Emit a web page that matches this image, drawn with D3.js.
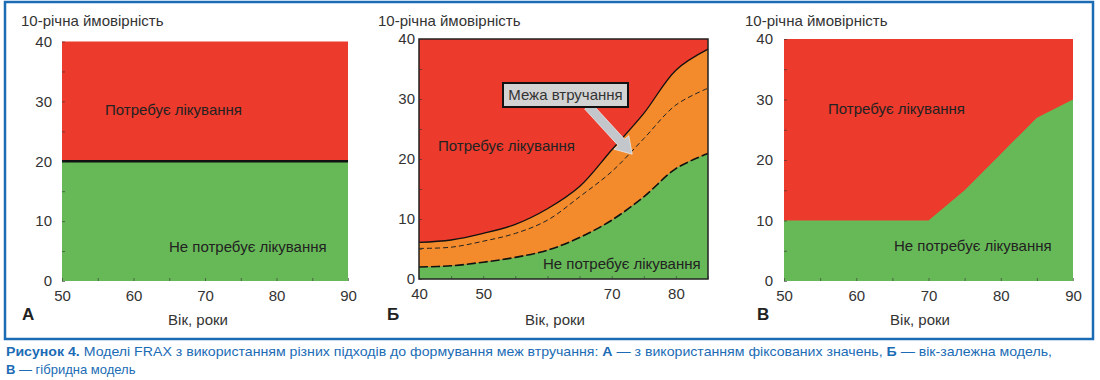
<!DOCTYPE html>
<html><head><meta charset="utf-8">
<script src="https://cdn.jsdelivr.net/npm/d3@7"></script>
<style>
html,body{margin:0;padding:0;background:#fff;}
svg{display:block;}
text{font-family:"Liberation Sans",Arial,sans-serif;}
</style></head>
<body>
<svg id="chart" width="1100" height="380"></svg>
<script>
// ---------- data ----------
const yTicks = [0, 10, 20, 30, 40];
const ageA = [50, 90];
const thresholdA = [20, 20];
const xLabelsA = [50, 60, 70, 80, 90];

const ageB = [40, 45, 50, 55, 60, 65, 70, 75, 80, 85];
const upperB = [6.1, 6.5, 7.6, 9.1, 11.7, 15.4, 21.5, 27.6, 34.8, 38.3];
const middleB = [5.1, 5.3, 6.3, 7.6, 9.8, 13.7, 17.9, 23.4, 29.0, 31.8];
const lowerB = [2.0, 2.2, 2.8, 3.6, 4.8, 6.9, 9.8, 13.7, 18.4, 20.9];
const xLabelsB = [40, 50, 70, 80];

const ageC = [50, 70, 75, 80, 85, 90];
const thresholdC = [10, 10, 15, 21, 27, 30];
const xLabelsC = [50, 60, 70, 80, 90];

const yTitle = "10-річна ймовірність";
const xTitle = "Вік, роки";
const treatLabel = "Потребує лікування";
const noTreatLabel = "Не потребує лікування";
const calloutLabel = "Межа втручання";
const panelLetters = ["А", "Б", "В"];

const RED = "#ec3a2c", GREEN = "#67b957", ORANGE = "#f38b2c";
const BLUE = "#1b6cb5";

const svg = d3.select("#chart");

// outer frame
svg.append("rect").attr("x", 5).attr("y", 2).attr("width", 1088).attr("height", 337)
  .attr("fill", "none").attr("stroke", BLUE).attr("stroke-width", 2.5);

function panel(cfg) {
  const g = svg.append("g");
  const x = d3.scaleLinear().domain(cfg.xDomain).range([cfg.x0, cfg.x1]);
  const y = d3.scaleLinear().domain([0, 40]).range([cfg.y1, cfg.y0]);
  cfg.draw(g, x, y);

  // minor inward ticks
  const yMinor = d3.axisLeft(y).tickValues(d3.range(0, 41, 5)).tickSize(-3).tickFormat("");
  g.append("g").attr("transform", `translate(${cfg.x0},0)`).call(yMinor)
    .call(s => { s.select(".domain").remove(); s.selectAll("line").attr("stroke", "#333").attr("stroke-opacity", 0.6); });
  const xMinor = d3.axisBottom(x).tickValues(d3.range(cfg.xDomain[0], cfg.xDomain[1] + 0.1, 5)).tickSize(-3).tickFormat("");
  g.append("g").attr("transform", `translate(0,${cfg.y1})`).call(xMinor)
    .call(s => { s.select(".domain").remove(); s.selectAll("line").attr("stroke", "#333").attr("stroke-opacity", 0.6); });

  // tick labels
  const yAx = d3.axisLeft(y).tickValues(yTicks).tickSize(0).tickPadding(cfg.x0 - cfg.yLabelX);
  g.append("g").attr("transform", `translate(${cfg.x0},0)`).call(yAx)
    .call(s => { s.select(".domain").remove(); s.selectAll("text").attr("font-size", 15).attr("fill", "#333").attr("font-family", "Liberation Sans, Arial, sans-serif"); });
  const xAx = d3.axisBottom(x).tickValues(cfg.xLabels).tickSize(0).tickPadding(cfg.xLabelDy);
  g.append("g").attr("transform", `translate(0,${cfg.y1})`).call(xAx)
    .call(s => { s.select(".domain").remove(); s.selectAll("text").attr("font-size", 15).attr("fill", "#333").attr("font-family", "Liberation Sans, Arial, sans-serif"); });

  g.append("text").attr("x", cfg.titleX).attr("y", 26).attr("font-size", 15).attr("fill", "#333").text(yTitle);
  g.append("text").attr("x", cfg.xTitleX).attr("y", 325).attr("text-anchor", "middle")
    .attr("font-size", 15).attr("fill", "#333").text(xTitle);
  g.append("text").attr("x", cfg.letterX).attr("y", 320).attr("font-size", 17).attr("font-weight", "bold")
    .attr("fill", "#222").text(cfg.letter);

  g.append("text").attr("x", cfg.treat[0]).attr("y", cfg.treat[1]).attr("dy", "0.35em")
    .attr("font-size", 15).attr("fill", "#222").text(treatLabel);
  g.append("text").attr("x", cfg.noTreat[0]).attr("y", cfg.noTreat[1]).attr("dy", "0.35em")
    .attr("font-size", 15).attr("fill", "#222").text(noTreatLabel);
  return {g, x, y};
}

// ---------- Panel A ----------
panel({
  x0: 62, x1: 348, y0: 41.5, y1: 281, xDomain: [50, 90], xLabels: xLabelsA,
  yLabelX: 52, xLabelDy: 9, titleX: 21, xTitleX: 198, letterX: 22, letter: panelLetters[0],
  treat: [105, 110], noTreat: [169, 247],
  draw(g, x, y) {
    const pts = ageA.map((a, i) => [a, thresholdA[i]]);
    g.append("path").datum(pts).attr("fill", RED)
      .attr("d", d3.area().x(d => x(d[0])).y0(y(40)).y1(d => y(d[1])));
    g.append("path").datum(pts).attr("fill", GREEN)
      .attr("d", d3.area().x(d => x(d[0])).y0(y(0)).y1(d => y(d[1])));
    g.append("path").datum(pts).attr("fill", "none").attr("stroke", "#111").attr("stroke-width", 2.5)
      .attr("d", d3.line().x(d => x(d[0])).y(d => y(d[1])));
  }
});

// ---------- Panel B ----------
panel({
  x0: 419, x1: 708, y0: 39, y1: 279, xDomain: [40, 85], xLabels: xLabelsB,
  yLabelX: 415, xLabelDy: 9, titleX: 378, xTitleX: 555, letterX: 387, letter: panelLetters[1],
  treat: [438, 146], noTreat: [543, 264],
  draw(g, x, y) {
    const curve = d3.curveCatmullRom.alpha(0.5);
    const idx = ageB.map((a, i) => i);
    g.append("rect").attr("x", x(40)).attr("y", y(40)).attr("width", x(85) - x(40)).attr("height", y(0) - y(40)).attr("fill", RED);
    g.append("path").datum(idx).attr("fill", ORANGE)
      .attr("d", d3.area().curve(curve).x(i => x(ageB[i])).y0(i => y(lowerB[i])).y1(i => y(upperB[i])));
    g.append("path").datum(idx).attr("fill", GREEN)
      .attr("d", d3.area().curve(curve).x(i => x(ageB[i])).y0(y(0)).y1(i => y(lowerB[i])));
    g.append("path").datum(idx).attr("fill", "none").attr("stroke", "#111").attr("stroke-width", 1.3)
      .attr("d", d3.line().curve(curve).x(i => x(ageB[i])).y(i => y(upperB[i])));
    g.append("path").datum(idx).attr("fill", "none").attr("stroke", "#222").attr("stroke-width", 1)
      .attr("stroke-dasharray", "5,3")
      .attr("d", d3.line().curve(curve).x(i => x(ageB[i])).y(i => y(middleB[i])));
    g.append("path").datum(idx).attr("fill", "none").attr("stroke", "#111").attr("stroke-width", 1.6)
      .attr("stroke-dasharray", "9,3")
      .attr("d", d3.line().curve(curve).x(i => x(ageB[i])).y(i => y(lowerB[i])));
    g.append("rect").attr("x", x(40)).attr("y", y(40)).attr("width", x(85) - x(40)).attr("height", y(0) - y(40))
      .attr("fill", "none").attr("stroke", "#222").attr("stroke-width", 1.5);

    // callout arrow (gray) pointing at the middle threshold curve near age 73
    const tipX = x(73.2), tipY = y(20.8);
    const sx = 588, sy = 106;
    const ang = Math.atan2(tipY - sy, tipX - sx);
    const len = Math.hypot(tipX - sx, tipY - sy);
    const sw = 4.5, hw = 10, hl = 16;
    const local = [[0, -sw], [len - hl, -sw], [len - hl, -hw], [len, 0], [len - hl, hw], [len - hl, sw], [0, sw]];
    const poly = local.map(([u, v]) => [sx + u * Math.cos(ang) - v * Math.sin(ang), sy + u * Math.sin(ang) + v * Math.cos(ang)]);
    g.append("polygon").attr("points", poly.map(p => p.join(",")).join(" "))
      .attr("fill", "#c3c7cb").attr("stroke", "#e8e8e8").attr("stroke-width", 0.8);
    g.append("rect").attr("x", 503).attr("y", 83).attr("width", 125).attr("height", 24)
      .attr("fill", "#d3d3d3").attr("stroke", "#111").attr("stroke-width", 2);
    g.append("text").attr("x", 565.5).attr("y", 95).attr("dy", "0.35em").attr("text-anchor", "middle")
      .attr("font-size", 15).attr("fill", "#333").text(calloutLabel);
  }
});

// ---------- Panel C ----------
panel({
  x0: 784, x1: 1073, y0: 39, y1: 281, xDomain: [50, 90], xLabels: xLabelsC,
  yLabelX: 773, xLabelDy: 9, titleX: 745, xTitleX: 920, letterX: 757, letter: panelLetters[2],
  treat: [828, 109], noTreat: [894, 246],
  draw(g, x, y) {
    const pts = ageC.map((a, i) => [a, thresholdC[i]]);
    g.append("rect").attr("x", x(50)).attr("y", y(40)).attr("width", x(90) - x(50)).attr("height", y(0) - y(40)).attr("fill", RED);
    g.append("path").datum(pts).attr("fill", GREEN)
      .attr("d", d3.area().x(d => x(d[0])).y0(y(0)).y1(d => y(d[1])));
  }
});

// ---------- caption ----------
const cap = svg.append("g").attr("fill", BLUE)
  .attr("font-family", "'Liberation Sans Narrow','Roboto Condensed','Liberation Sans',sans-serif");
const line1 = cap.append("text").attr("x", 6).attr("y", 356).attr("font-size", 13)
  .attr("textLength", 1046).attr("lengthAdjust", "spacingAndGlyphs");
line1.append("tspan").attr("font-weight", "bold").text("Рисунок 4. ");
line1.append("tspan").text(" Моделі FRAX з використанням різних підходів до формування меж втручання: ");
line1.append("tspan").attr("font-weight", "bold").text("А");
line1.append("tspan").text(" — з використанням фіксованих значень, ");
line1.append("tspan").attr("font-weight", "bold").text("Б");
line1.append("tspan").text(" — вік-залежна модель,");
const line2 = cap.append("text").attr("x", 6).attr("y", 374).attr("font-size", 13);
line2.append("tspan").attr("font-weight", "bold").text("В");
line2.append("tspan").text(" — гібридна модель");
</script>
</body></html>
